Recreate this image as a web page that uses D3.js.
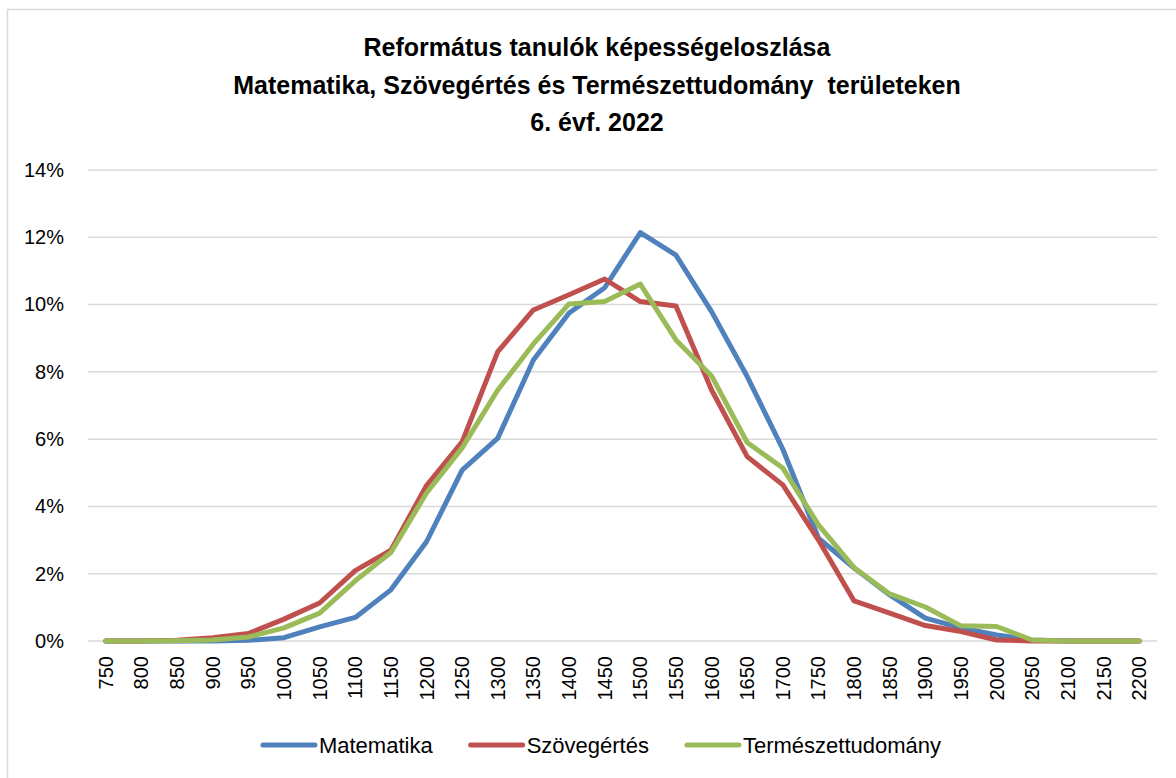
<!DOCTYPE html>
<html lang="hu">
<head>
    <meta charset="UTF-8">
    <title>Református tanulók képességeloszlása</title>
    <script src="https://d3js.org/d3.v7.min.js"></script>
    <style>
        body { margin: 0; background: #fff; }
        text { font-family: "Liberation Sans", Arial, sans-serif; fill: #000; }
        .title { font-size: 25px; font-weight: bold; white-space: pre; }
        .tick-label { font-size: 20px; }
        .legend-label { font-size: 22px; }
    </style>
</head>
<body>
    <div id="chart"></div>
    <script>
        // Data (percent of students per score band)
        const categories = ["750","800","850","900","950","1000","1050","1100","1150","1200",
            "1250","1300","1350","1400","1450","1500","1550","1600","1650","1700",
            "1750","1800","1850","1900","1950","2000","2050","2100","2150","2200"];
        const matematika = [0,0,0,0,0.02,0.1,0.42,0.7,1.52,2.95,5.08,6.03,8.35,9.75,10.5,
            12.14,11.47,9.79,7.86,5.7,3.06,2.17,1.37,0.68,0.39,0.18,0.03,0,0,0];
        const szovegertes = [0,0,0.02,0.1,0.22,0.65,1.13,2.09,2.7,4.62,5.92,8.6,9.84,10.29,10.76,
            10.09,9.96,7.46,5.48,4.64,3.0,1.19,0.83,0.46,0.28,0.03,0,0,0,0];
        const termeszet = [0,0,0.01,0.03,0.12,0.39,0.83,1.79,2.63,4.4,5.74,7.46,8.83,10.02,10.09,
            10.61,8.95,7.88,5.9,5.14,3.45,2.18,1.4,1.01,0.45,0.43,0.03,0,0,0];
        const seriesNames = ["Matematika", "Szövegértés", "Természettudomány"];
        const yTicks = [0, 2, 4, 6, 8, 10, 12, 14];
        const titleLines = ["Református tanulók képességeloszlása",
            "Matematika, Szövegértés és Természettudomány  területeken",
            "6. évf. 2022"];

        const width = 1176;
        const height = 778;
        const plot = {left: 88, right: 1157, top: 170, bottom: 641};
        const colors = ["#4F81BD", "#C0504D", "#9BBB59"];

        const svg = d3.select("#chart")
            .append("svg")
            .attr("width", width)
            .attr("height", height);

        // chart border (clipped at right / bottom like the original)
        svg.append("rect")
            .attr("x", 7.5).attr("y", 9.5)
            .attr("width", 1200).attr("height", 800)
            .attr("fill", "#fff")
            .attr("stroke", "#d9d9d9")
            .attr("stroke-width", 1.5);

        // title
        svg.selectAll(".title")
            .data(titleLines)
            .enter().append("text")
            .attr("class", "title")
            .attr("x", 597)
            .attr("y", (d, i) => 56 + i * 37.5)
            .attr("text-anchor", "middle")
            .text(d => d);

        // scales
        const xScale = d3.scaleBand()
            .domain(categories)
            .range([plot.left, plot.right]);

        const yScale = d3.scaleLinear()
            .domain([0, 14])
            .range([plot.bottom, plot.top]);

        // gridlines
        svg.append("g")
            .selectAll("line")
            .data(yTicks)
            .enter().append("line")
            .attr("x1", plot.left)
            .attr("x2", plot.right)
            .attr("y1", d => yScale(d))
            .attr("y2", d => yScale(d))
            .attr("stroke", "#d9d9d9")
            .attr("stroke-width", 1.5);

        // y axis labels
        const yAxis = d3.axisLeft(yScale)
            .tickValues(yTicks)
            .tickFormat(d => d + "%")
            .tickSize(0)
            .tickPadding(0);

        svg.append("g")
            .attr("transform", "translate(64,0)")
            .call(yAxis)
            .call(g => g.select(".domain").remove())
            .call(g => g.selectAll("text")
                .attr("class", "tick-label")
                .attr("font-family", null)
                .attr("font-size", null)
                .attr("fill", "#000"));

        // x axis labels (rotated)
        svg.append("g")
            .selectAll("text")
            .data(categories)
            .enter().append("text")
            .attr("class", "tick-label")
            .attr("transform", d => `translate(${xScale(d) + xScale.bandwidth() / 2},656) rotate(-90)`)
            .attr("text-anchor", "end")
            .attr("dy", "0.35em")
            .text(d => d);

        // lines
        const allSeries = [matematika, szovegertes, termeszet];
        const line = d3.line()
            .x((d, i) => xScale(categories[i]) + xScale.bandwidth() / 2)
            .y(d => yScale(d));

        svg.append("g")
            .selectAll("path")
            .data(allSeries)
            .enter().append("path")
            .attr("d", line)
            .attr("fill", "none")
            .attr("stroke", (d, i) => colors[i])
            .attr("stroke-width", 5)
            .attr("stroke-linejoin", "round")
            .attr("stroke-linecap", "round");

        // legend
        const legendY = 745;
        const sampleLen = 54;
        const legend = svg.append("g");
        const items = legend.selectAll("g")
            .data(seriesNames)
            .enter().append("g");

        items.append("line")
            .attr("x1", 2).attr("x2", sampleLen)
            .attr("y1", 0).attr("y2", 0)
            .attr("stroke", (d, i) => colors[i])
            .attr("stroke-width", 5)
            .attr("stroke-linecap", "round");

        items.append("text")
            .attr("class", "legend-label")
            .attr("x", sampleLen + 4)
            .attr("dy", "0.35em")
            .text(d => d);

        let offset = 0;
        const gap = 36;
        items.each(function() {
            const w = d3.select(this).select("text").node().getComputedTextLength();
            d3.select(this).attr("data-x", offset);
            offset += sampleLen + 4 + w + gap;
        });
        const totalW = offset - gap;
        const startX = 601 - totalW / 2;
        items.attr("transform", function() {
            return `translate(${startX + (+this.getAttribute("data-x"))},${legendY})`;
        });
    </script>
</body>
</html>
